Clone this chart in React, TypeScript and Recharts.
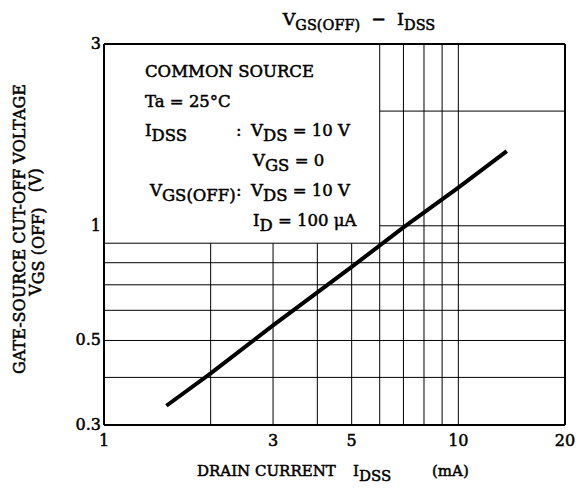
import React from "react";
import { LineChart, Line, XAxis, YAxis, ReferenceLine } from "recharts";

// ---- data ----
const idssMa = [1.5, 2, 3, 5, 7, 10, 13.7];
const vgsOffV = [0.337, 0.41, 0.548, 0.78, 0.99, 1.26, 1.57];

const xTicks = [1, 3, 5, 10, 20];
const yTicks = [0.3, 0.5, 1, 3];

const vGridShort = [2, 3, 4, 5]; // stop under the condition box
const vGridFull = [6, 7, 8, 9, 10];
const hGridFull = [0.4, 0.5, 0.6, 0.7, 0.8, 0.9];
const hGridShort = [1, 2]; // start at 6 mA (right of the condition box)

const data = idssMa.map((x, i) => ({ x, v: vgsOffV[i] }));

const FONT = "'DejaVu Serif', serif";
const W = 582;
const H = 488;
const SW = 0.5; // faux-bold stroke to mimic the heavy scanned type

const XTick = (props: any) => {
  const { x, y, payload } = props;
  return (
    <text x={x} y={y + 21} textAnchor="middle" fontFamily={FONT} fontSize={16} fill="#000" stroke="#000" strokeWidth={SW}>
      {payload.value}
    </text>
  );
};

const YTick = (props: any) => {
  const { x, y, payload } = props;
  return (
    <text x={x} y={y + 5} textAnchor="end" fontFamily={FONT} fontSize={16} fill="#000" stroke="#000" strokeWidth={SW}>
      {payload.value}
    </text>
  );
};

const Sub = ({ children, dy = 5, size }: { children: React.ReactNode; dy?: number; size?: number }) => (
  <tspan dy={dy} fontSize={size}>{children}</tspan>
);

export default function App() {
  const txt = { fontFamily: FONT, fill: "#000", stroke: "#000", strokeWidth: SW };
  const LS = 16.5; // condition box font size
  return (
    <div style={{ position: "absolute", left: 0, top: 0, width: W, height: H, background: "#fff" }}>
      <LineChart width={W} height={H} data={data} margin={{ top: 44, right: 17, bottom: 33, left: 44 }}>
        <XAxis
          dataKey="x"
          type="number"
          scale="log"
          domain={[1, 20]}
          ticks={xTicks}
          interval={0}
          allowDataOverflow
          tickLine={false}
          tickSize={0}
          tickMargin={0}
          height={30}
          axisLine={{ stroke: "#000", strokeWidth: 2 }}
          tick={<XTick />}
        />
        <YAxis
          type="number"
          scale="log"
          domain={[0.3, 3]}
          ticks={yTicks}
          interval={0}
          allowDataOverflow
          tickLine={false}
          tickSize={0}
          tickMargin={3}
          width={60}
          axisLine={{ stroke: "#000", strokeWidth: 2 }}
          tick={<YTick />}
        />
        {vGridShort.map((g) => (
          <ReferenceLine key={"vs" + g} segment={[{ x: g, y: 0.3 }, { x: g, y: 0.9 }]} stroke="#000" strokeWidth={1} />
        ))}
        {vGridFull.map((g) => (
          <ReferenceLine key={"vf" + g} segment={[{ x: g, y: 0.3 }, { x: g, y: 3 }]} stroke="#000" strokeWidth={1} />
        ))}
        {hGridFull.map((g) => (
          <ReferenceLine key={"hf" + g} segment={[{ x: 1, y: g }, { x: 20, y: g }]} stroke="#000" strokeWidth={1} />
        ))}
        {hGridShort.map((g) => (
          <ReferenceLine key={"hs" + g} segment={[{ x: 6, y: g }, { x: 20, y: g }]} stroke="#000" strokeWidth={1} />
        ))}
        <ReferenceLine y={3} stroke="#000" strokeWidth={2} />
        <ReferenceLine x={20} stroke="#000" strokeWidth={2} />
        <Line
          type="linear"
          dataKey="v"
          stroke="#000"
          strokeWidth={4}
          dot={false}
          activeDot={false}
          isAnimationActive={false}
        />
      </LineChart>
      <svg
        width={W}
        height={H}
        style={{ position: "absolute", left: 0, top: 0, pointerEvents: "none" }}
      >
        {/* title */}
        <text x={359} y={25} textAnchor="middle" fontSize={17.5} {...txt}>
          V<Sub size={14.5}>GS(OFF)</Sub>
          <tspan dy={-5}>{"\u00a0\u00a0\u2212\u00a0\u00a0"}I</tspan>
          <Sub size={14.5}>DSS</Sub>
        </text>

        {/* y axis title */}
        <text x={25} y={229} textAnchor="middle" fontSize={16} transform="rotate(-90 25 229)" {...txt}>
          GATE-SOURCE CUT-OFF VOLTAGE
        </text>
        <text x={41} y={232} textAnchor="middle" fontSize={16} transform="rotate(-90 41 232)" {...txt}>
          V<Sub dy={3}>GS (OFF)</Sub>
          <tspan dy={-3}>{"\u00a0\u00a0\u00a0(V)"}</tspan>
        </text>

        {/* x axis title */}
        <text x={197} y={476} fontSize={15} {...txt}>
          DRAIN CURRENT
        </text>
        <text x={353} y={476} fontSize={15} {...txt}>
          I<Sub>DSS</Sub>
        </text>
        <text x={432} y={476} fontSize={15} {...txt}>
          (mA)
        </text>

        {/* condition box */}
        <text x={145} y={77} fontSize={LS} {...txt}>COMMON SOURCE</text>
        <text x={145} y={107} fontSize={LS} {...txt}>Ta = 25°C</text>
        <text x={145} y={136} fontSize={LS} {...txt}>
          I<Sub>DSS</Sub>
        </text>
        <text x={236} y={136} fontSize={LS} {...txt}>:</text>
        <text x={251} y={136} fontSize={LS} {...txt}>
          V<Sub>DS</Sub>
          <tspan dy={-5}> = 10 V</tspan>
        </text>
        <text x={253} y={166} fontSize={LS} {...txt}>
          V<Sub>GS</Sub>
          <tspan dy={-5}> = 0</tspan>
        </text>
        <text x={150} y={196} fontSize={LS} {...txt}>
          V<Sub>GS(OFF)</Sub>
        </text>
        <text x={236} y={196} fontSize={LS} {...txt}>:</text>
        <text x={251} y={196} fontSize={LS} {...txt}>
          V<Sub>DS</Sub>
          <tspan dy={-5}> = 10 V</tspan>
        </text>
        <text x={253} y={226} fontSize={LS} {...txt}>
          I<Sub>D</Sub>
          <tspan dy={-5}> = 100 μA</tspan>
        </text>
      </svg>
    </div>
  );
}
